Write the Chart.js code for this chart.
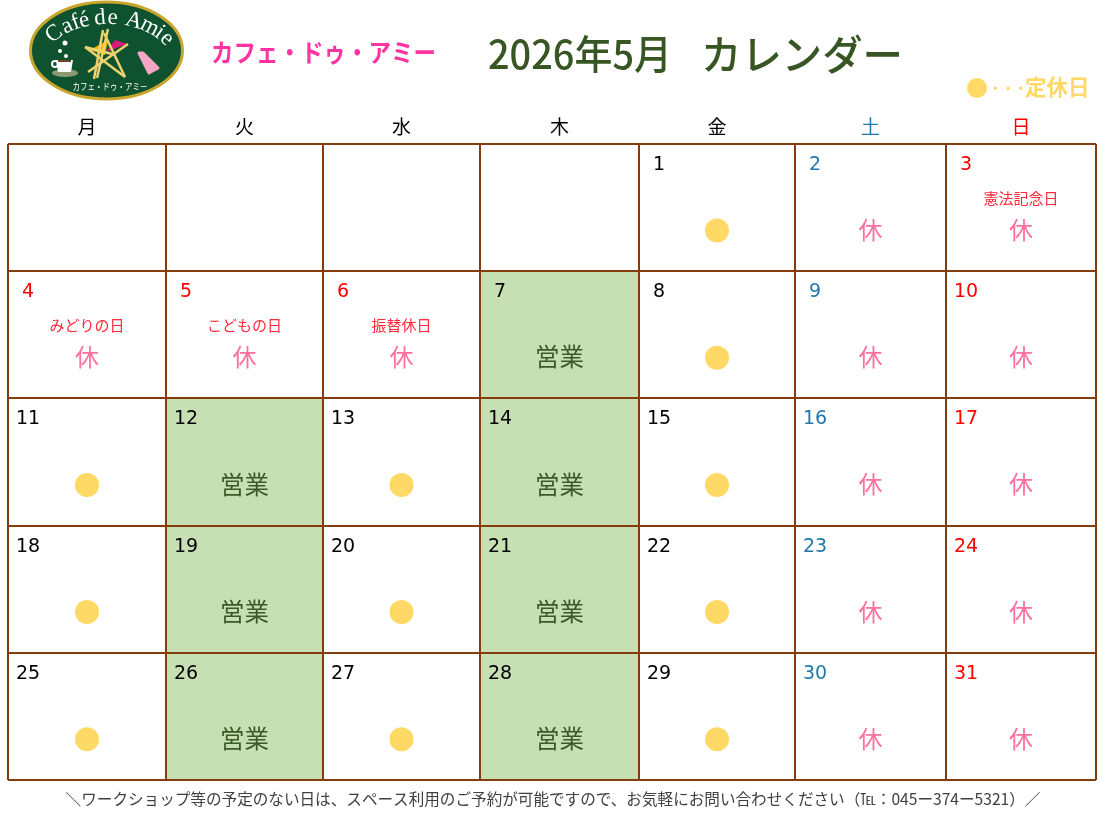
<!DOCTYPE html>
<html lang="ja">
<head>
<meta charset="utf-8">
<title>カフェ・ドゥ・アミー 2026年5月 カレンダー</title>
<script src="https://cdn.jsdelivr.net/npm/chart.js@4/dist/chart.umd.js"></script>
<style>
  html, body { margin: 0; background: #fff; }
  canvas { display: block; }
</style>
</head>
<body>
<canvas id="calendar" width="1105" height="821"></canvas>
<script>
const weekdays = ['月', '火', '水', '木', '金', '土', '日'];
const columnEdges = [0, 158, 315, 472, 631, 787, 938, 1088];
const rowCount = 5;
const lastDay = 31;
const firstDayColumn = 4; // 5/1 is a Friday

const openDays = [7, 12, 14, 19, 21, 26, 28];
const regularClosedDays = [1, 8, 11, 13, 15, 18, 20, 22, 25, 27, 29];
const offDays = [2, 3, 4, 5, 6, 9, 10, 16, 17, 23, 24, 30, 31];
const redDays = [3, 4, 5, 6, 10, 17, 24, 31];
const holidayNames = { 3: '憲法記念日', 4: 'みどりの日', 5: 'こどもの日', 6: '振替休日' };

const FONT = '"Noto Sans CJK JP", "Noto Sans", sans-serif';
const BROWN = '#843c0c';
const YELLOW = '#ffd966';

const columnOf = day => (day - 1 + firstDayColumn) % 7;
const rowOf = day => Math.floor((day - 1 + firstDayColumn) / 7);
const centerOf = col => (columnEdges[col] + columnEdges[col + 1]) / 2;
const allDays = Array.from({ length: lastDay }, (_, i) => i + 1);

function openBars(col) {
    return openDays.filter(d => columnOf(d) === col).map(d => ({
        x: [columnEdges[col], columnEdges[col + 1]],
        y: rowOf(d) + 0.5
    }));
}

function drawLogo(c) {
    c.save();
    c.beginPath();
    c.ellipse(106.5, 50.5, 76, 48.5, 0, 0, Math.PI * 2);
    c.fillStyle = '#0e5230';
    c.fill();
    c.lineWidth = 3;
    c.strokeStyle = '#c9a52c';
    c.stroke();

    // curved name
    const name = 'Café de Amie';
    const angles = [-54, -38, -29, -21, 0, -7, 4, 0, 23, 39, 51, 62];
    c.fillStyle = '#fff';
    c.font = '23px "Liberation Serif", serif';
    c.textAlign = 'center';
    c.textBaseline = 'alphabetic';
    name.split('').forEach((ch, i) => {
        const a = angles[i] * Math.PI / 180;
        c.save();
        c.translate(108 + 62 * Math.sin(a), 60 - 36 * Math.cos(a));
        c.rotate(a * 0.7);
        c.fillText(ch, 0, 0);
        c.restore();
    });

    // bubbles, cup
    c.fillStyle = '#fff';
    [[65, 43, 2.5], [60, 51, 2], [66, 56, 2]].forEach(p => {
        c.beginPath();
        c.arc(p[0], p[1], p[2], 0, Math.PI * 2);
        c.fill();
    });
    c.fillStyle = '#8a9a70';
    c.beginPath();
    c.ellipse(65, 73, 13, 4, 0, 0, Math.PI * 2);
    c.fill();
    c.fillStyle = '#fff';
    c.beginPath();
    c.moveTo(56, 60);
    c.lineTo(73, 60);
    c.lineTo(71, 72);
    c.lineTo(58, 72);
    c.closePath();
    c.fill();
    c.lineWidth = 2;
    c.strokeStyle = '#fff';
    c.beginPath();
    c.arc(55, 64, 3, 0, Math.PI * 2);
    c.stroke();
    c.fillStyle = '#6b4423';
    c.fillRect(58, 60, 13, 2);

    // star of sticks
    c.fillStyle = '#f5b800';
    c.beginPath();
    c.moveTo(90, 50);
    c.lineTo(108, 40);
    c.lineTo(105, 55);
    c.closePath();
    c.fill();
    c.fillStyle = '#d81b7a';
    c.beginPath();
    c.moveTo(106, 52);
    c.lineTo(127, 44);
    c.lineTo(115, 40);
    c.closePath();
    c.fill();
    c.strokeStyle = '#ecd271';
    c.lineWidth = 2.5;
    [[103, 30, 94, 79], [108, 29, 97, 78], [85, 47, 125, 77], [128, 44, 88, 72], [104, 33, 125, 77], [85, 47, 112, 54]].forEach(s => {
        c.beginPath();
        c.moveTo(s[0], s[1]);
        c.lineTo(s[2], s[3]);
        c.stroke();
    });

    // cake slice
    c.fillStyle = '#f5a6c4';
    c.strokeStyle = '#f5a6c4';
    c.lineWidth = 3;
    c.lineJoin = 'round';
    c.beginPath();
    c.moveTo(139, 53);
    c.lineTo(143, 53);
    c.lineTo(158, 68);
    c.lineTo(149, 73);
    c.closePath();
    c.fill();
    c.stroke();

    c.fillStyle = '#fff';
    c.font = '9px ' + FONT;
    c.textBaseline = 'middle';
    c.fillText('カフェ・ドゥ・アミー', 110, 87, 75);
    c.restore();
}

const calendarText = {
    id: 'calendarText',
    afterDraw(chart) {
        const c = chart.ctx;
        const x = chart.scales.x;
        const y = chart.scales.y;
        c.save();
        c.textBaseline = 'middle';

        // cell contents
        allDays.forEach(day => {
            const col = columnOf(day);
            const row = rowOf(day);
            const left = x.getPixelForValue(columnEdges[col]);
            c.textAlign = 'center';
            c.font = '19px "DejaVu Sans", sans-serif';
            c.fillStyle = redDays.includes(day) ? '#ff0000' : col === 5 ? '#1f77ac' : '#000';
            c.fillText(String(day), left + 20, y.getPixelForValue(row + 0.165));
            if (holidayNames[day]) {
                c.font = '15px ' + FONT;
                c.fillStyle = '#ff2a3a';
                c.fillText(holidayNames[day], x.getPixelForValue(centerOf(col)), y.getPixelForValue(row + 0.425));
            }
            if (offDays.includes(day)) {
                c.font = '24px ' + FONT;
                c.fillStyle = '#ff70a0';
                c.fillText('休', x.getPixelForValue(centerOf(col)), y.getPixelForValue(row + 0.675));
            }
            if (openDays.includes(day)) {
                c.font = '24.5px ' + FONT;
                c.fillStyle = '#3a5a28';
                c.fillText('営業', x.getPixelForValue(centerOf(col)), y.getPixelForValue(row + 0.675));
            }
        });

        // header
        drawLogo(c);
        c.textAlign = 'left';
        c.font = '700 25px ' + FONT;
        c.fillStyle = '#ff33a1';
        c.fillText('カフェ・ドゥ・アミー', 211, 52, 225);
        c.font = '500 40px ' + FONT;
        c.fillStyle = '#375623';
        c.fillText('2026年5月', 488, 54, 184);
        c.font = '500 41px ' + FONT;
        c.fillText('カレンダー', 701, 54, 202);

        // legend
        c.fillStyle = YELLOW;
        c.beginPath();
        c.arc(977, 88, 10, 0, Math.PI * 2);
        c.fill();
        c.font = '700 14px ' + FONT;
        c.fillText('・・・', 989, 88, 38);
        c.font = '700 21.5px ' + FONT;
        c.fillText('定休日', 1025, 87, 65);

        // footer
        c.textAlign = 'center';
        c.font = '400 15.6px ' + FONT;
        c.fillStyle = '#404040';
        c.fillText('＼ワークショップ等の予定のない日は、スペース利用のご予約が可能ですので、お気軽にお問い合わせください（℡：045ー374ー5321）／', 553, 799, 976);
        c.restore();
    }
};

new Chart(document.getElementById('calendar'), {
    type: 'bar',
    data: {
        datasets: [
            { type: 'bar', indexAxis: 'y', data: openBars(1), backgroundColor: '#c6e0b4', grouped: false, barPercentage: 1, categoryPercentage: 1 },
            { type: 'bar', indexAxis: 'y', data: openBars(3), backgroundColor: '#c6e0b4', grouped: false, barPercentage: 1, categoryPercentage: 1 },
            {
                type: 'scatter',
                indexAxis: 'x',
                data: regularClosedDays.map(d => ({ x: centerOf(columnOf(d)), y: rowOf(d) + 0.68 })),
                backgroundColor: YELLOW,
                borderWidth: 0,
                pointRadius: 12,
                pointHoverRadius: 12
            }
        ]
    },
    options: {
        indexAxis: 'y',
        responsive: false,
        animation: false,
        devicePixelRatio: 1,
        events: [],
        layout: { autoPadding: false, padding: { left: 8, right: 9, top: 112, bottom: 41 } },
        plugins: { legend: { display: false }, tooltip: { enabled: false } },
        scales: {
            x: {
                type: 'linear',
                position: 'bottom',
                offset: false,
                min: columnEdges[0],
                max: columnEdges[columnEdges.length - 1],
                afterBuildTicks: axis => { axis.ticks = columnEdges.map(value => ({ value })); },
                afterFit: axis => { axis.height = 0; },
                ticks: { display: false },
                grid: { offset: false, color: BROWN, lineWidth: 2, drawTicks: false, z: 1 },
                border: { display: false }
            },
            top: {
                type: 'linear',
                position: 'top',
                offset: false,
                min: columnEdges[0],
                max: columnEdges[columnEdges.length - 1],
                afterBuildTicks: axis => { axis.ticks = weekdays.map((_, i) => ({ value: centerOf(i) })); },
                afterFit: axis => {
                    axis.height = 32;
                    axis.paddingLeft = 0;
                    axis.paddingRight = 0;
                },
                ticks: {
                    autoSkip: false,
                    maxRotation: 0,
                    padding: 4,
                    font: { family: FONT, size: 19 },
                    color: ctx => ctx.index === 5 ? '#1f77ac' : ctx.index === 6 ? '#ff0000' : '#000',
                    callback: (value, index) => weekdays[index]
                },
                grid: { display: false, tickLength: 2 },
                border: { display: false }
            },
            y: {
                type: 'linear',
                reverse: true,
                offset: false,
                min: 0,
                max: rowCount,
                afterFit: axis => { axis.width = 0; },
                ticks: { display: false, stepSize: 1 },
                grid: { offset: false, color: BROWN, lineWidth: 2, drawTicks: false, z: 1 },
                border: { display: false }
            }
        }
    },
    plugins: [calendarText]
});
</script>
</body>
</html>
